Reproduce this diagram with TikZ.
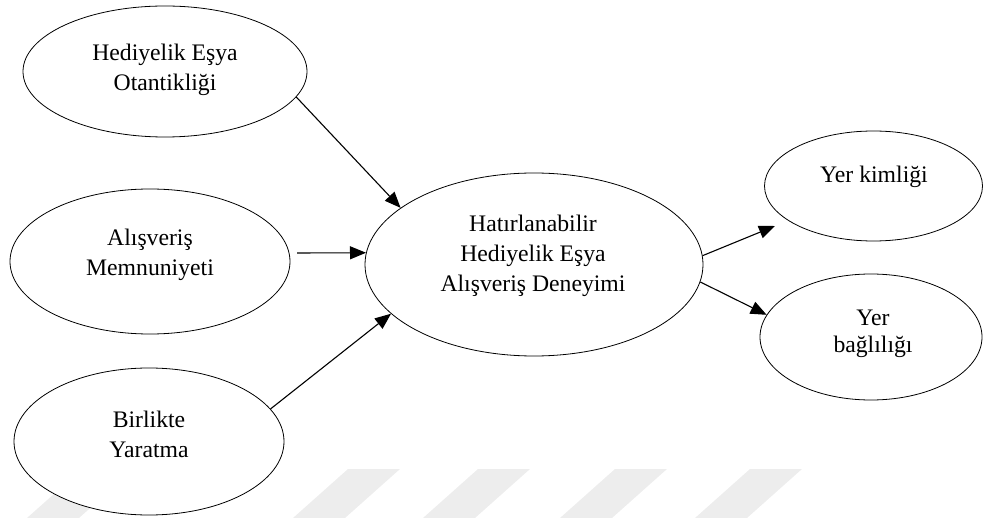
\documentclass[tikz,border=0pt]{standalone}
\usepackage{fontspec}
\setmainfont{Liberation Serif}
\usetikzlibrary{shapes.geometric,arrows.meta}

\tikzset{
  construct/.style={draw=black, line width=0.8pt, fill=white, ellipse, inner sep=0pt},
  lbl/.style={align=center, font=\fontsize{23.7}{30}\selectfont, inner sep=0pt},
  arr/.style={line width=1.1pt, -{Triangle[length=16pt,width=13pt]}},
  wmark/.style={fill=black!7, draw=none}
}

\begin{document}
\begin{tikzpicture}[x=1pt, y=-1pt]
  \useasboundingbox (0,0) rectangle (985,518);

  % faint slanted bars along the bottom edge
  \foreach \bx in {82,348,478,615,750}
    \fill[wmark] (\bx,469) -- (\bx+52,469) -- (\bx-3,518) -- (\bx-55,518) -- cycle;

  % constructs
  \node[construct, minimum width=284pt, minimum height=131pt] (e1) at (165,71.5) {};
  \node[construct, minimum width=280pt, minimum height=145pt] (e2) at (150,261.5) {};
  \node[construct, minimum width=270pt, minimum height=147pt] (e3) at (149,441.5) {};
  \node[construct, minimum width=338pt, minimum height=183pt] (e4) at (534,264.5) {};
  \node[construct, minimum width=218pt, minimum height=110pt] (e5) at (873.5,186) {};
  \node[construct, minimum width=222pt, minimum height=126pt] (e6) at (871,337) {};

  % construct names
  \node[lbl] (t1) at (165,70)  {Hediyelik Eşya\\Otantikliği};
  \node[lbl] (t2) at (150,255) {Alışveriş\\Memnuniyeti};
  \node[lbl] (t3) at (149,434) {Birlikte\\Yaratma};
  \node[lbl] (t4) at (533,256) {Hatırlanabilir\\Hediyelik Eşya\\Alışveriş Deneyimi};
  \node[lbl] (t5) at (874,177) {Yer kimliği};
  \node[lbl] (t6) at (873,334) {Yer\\[-3pt]bağlılığı};

  % free ends of the connectors
  \coordinate (s2) at (297,253);
  \coordinate (p5) at (775,226);

  % paths
  \draw[arr] (e1.-11.35) -- (e4.157.1);
  \draw[arr] (s2) -- (e4.176);
  \draw[arr] (e3.15.2) -- (e4.199.65);
  \draw[arr] (e4.3.2) -- (p5);
  \draw[arr] (e4.-6.1) -- (e6.168.1);
\end{tikzpicture}
\end{document}
